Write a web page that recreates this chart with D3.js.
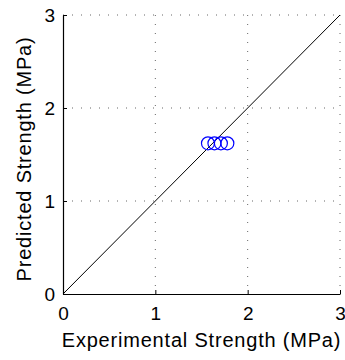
<!DOCTYPE html>
<html>
<head>
<meta charset="utf-8">
<script src="https://cdn.jsdelivr.net/npm/d3@7"></script>
<style>
  html, body { margin: 0; padding: 0; background: #fff; }
  svg { display: block; font-family: "Liberation Sans", Arial, sans-serif; }
</style>
</head>
<body>
<svg id="chart" width="345" height="360"></svg>
<script>
// Measured vs. predicted strength samples (MPa)
const experimental = [1.57, 1.64, 1.71, 1.78];
const predicted = [1.62, 1.62, 1.62, 1.62];
const tickValues = [0, 1, 2, 3];
const axisDomain = [0, 3];

const svg = d3.select("#chart");
const margin = { top: 15, right: 5, bottom: 66, left: 63 };
const width = 345 - margin.left - margin.right;
const height = 360 - margin.top - margin.bottom;

const x = d3.scaleLinear().domain(axisDomain).range([0, width]);
const y = d3.scaleLinear().domain(axisDomain).range([height, 0]);

const g = svg.append("g").attr("transform", `translate(${margin.left},${margin.top})`);

// dotted grid
g.append("g").selectAll("line").data(tickValues.slice(1)).join("line")
  .attr("x1", d => x(d)).attr("x2", d => x(d))
  .attr("y1", 0).attr("y2", height)
  .attr("stroke", "#666").attr("stroke-width", 1)
  .attr("stroke-dasharray", "1,8");
g.append("g").selectAll("line").data(tickValues.slice(1)).join("line")
  .attr("y1", d => y(d)).attr("y2", d => y(d))
  .attr("x1", 0).attr("x2", width)
  .attr("stroke", "#666").attr("stroke-width", 1)
  .attr("stroke-dasharray", "1,8");

// 1:1 reference line
g.append("line")
  .attr("x1", x(axisDomain[0])).attr("y1", y(axisDomain[0]))
  .attr("x2", x(axisDomain[1])).attr("y2", y(axisDomain[1]))
  .attr("stroke", "#000").attr("stroke-width", 1);

// data points
g.append("g").selectAll("circle").data(experimental).join("circle")
  .attr("cx", d => x(d))
  .attr("cy", (d, i) => y(predicted[i]))
  .attr("r", 6.5)
  .attr("fill", "none")
  .attr("stroke", "#0000ff")
  .attr("stroke-width", 1.2);

// axes with inward ticks
const xAxis = d3.axisBottom(x).tickValues(tickValues).tickFormat(d3.format("d"))
  .tickSizeInner(-4).tickSizeOuter(0).tickPadding(13);
const yAxis = d3.axisLeft(y).tickValues(tickValues).tickFormat(d3.format("d"))
  .tickSizeInner(-4).tickSizeOuter(0).tickPadding(8);

const gx = g.append("g").attr("transform", `translate(0,${height})`).call(xAxis);
const gy = g.append("g").call(yAxis);

[gx, gy].forEach(a => {
  a.select(".domain").attr("stroke", "#000").attr("stroke-width", 1.2);
  a.selectAll(".tick line").attr("stroke", "#000");
  a.selectAll(".tick text").attr("font-size", 19).attr("fill", "#000")
    .attr("font-family", "Liberation Sans, Arial, sans-serif");
});

// axis titles
svg.append("text")
  .attr("x", margin.left + width / 2).attr("y", 347)
  .attr("text-anchor", "middle").attr("font-size", 20).attr("fill", "#000")
  .attr("letter-spacing", 0.8)
  .text("Experimental Strength (MPa)");
svg.append("text")
  .attr("transform", `translate(31,159) rotate(-90)`)
  .attr("text-anchor", "middle").attr("font-size", 20).attr("fill", "#000")
  .attr("letter-spacing", 0.8)
  .text("Predicted Strength (MPa)");
</script>
</body>
</html>
